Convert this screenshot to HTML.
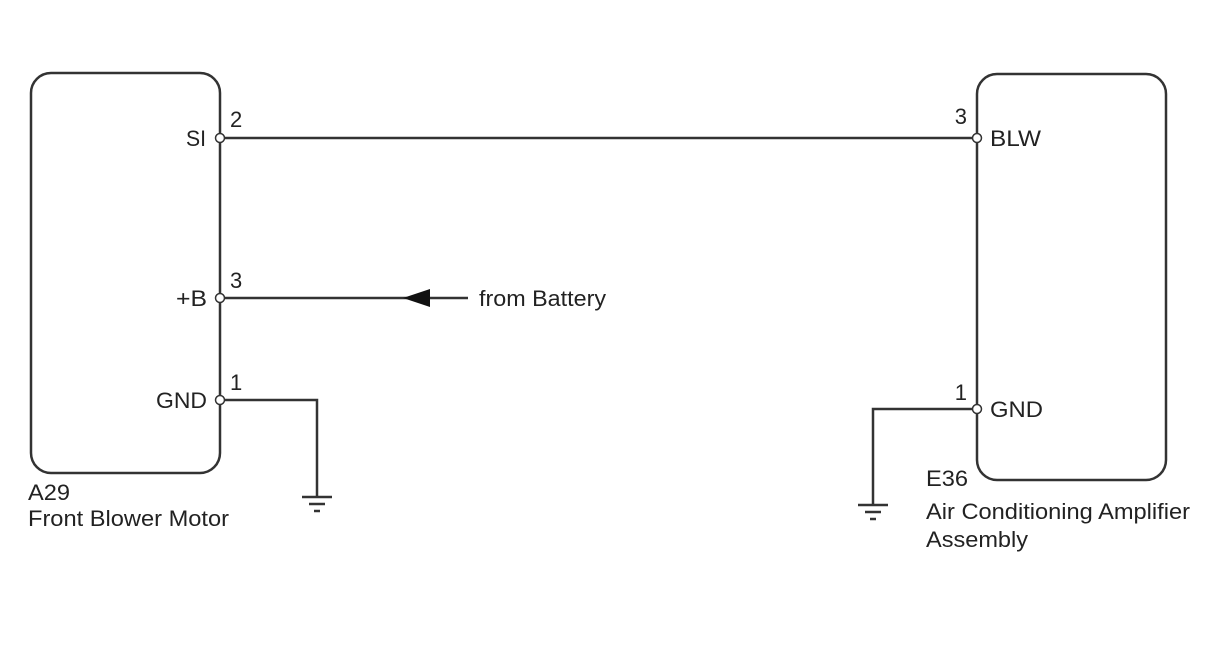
<!DOCTYPE html>
<html><head><style>body{margin:0;background:#fff}</style></head><body>
<svg width="1208" height="644" xmlns="http://www.w3.org/2000/svg" font-family="Liberation Sans, sans-serif" font-size="22" fill="#222">
<g stroke="#333" stroke-width="2.5" fill="none">
<rect x="31" y="73" width="189" height="400" rx="20"/>
<rect x="977" y="74" width="189" height="406" rx="20"/>
<line x1="220" y1="138" x2="977" y2="138"/>
<line x1="220" y1="298" x2="468" y2="298"/>
<polyline points="220,400 317,400 317,497"/>
<line x1="302" y1="497" x2="332" y2="497"/>
<line x1="309" y1="504" x2="325" y2="504"/>
<line x1="314" y1="511" x2="320" y2="511"/>
<polyline points="977,409 873,409 873,505"/>
<line x1="858" y1="505" x2="888" y2="505"/>
<line x1="865" y1="512" x2="881" y2="512"/>
<line x1="870" y1="519" x2="876" y2="519"/>
</g>
<polygon points="403,298 430,289 430,307" fill="#111"/>
<g fill="#fff" stroke="#333" stroke-width="1.5">
<circle cx="220" cy="138" r="4.5"/><circle cx="220" cy="298" r="4.5"/><circle cx="220" cy="400" r="4.5"/>
<circle cx="977" cy="138" r="4.5"/><circle cx="977" cy="409" r="4.5"/>
</g>
<g lengthAdjust="spacingAndGlyphs">
<text x="186" y="146" textLength="20" lengthAdjust="spacingAndGlyphs">SI</text>
<text x="230" y="127">2</text>
<text x="176" y="306" textLength="31" lengthAdjust="spacingAndGlyphs">+B</text>
<text x="230" y="288">3</text>
<text x="156" y="408" textLength="51" lengthAdjust="spacingAndGlyphs">GND</text>
<text x="230" y="390">1</text>
<text x="990" y="146" textLength="51" lengthAdjust="spacingAndGlyphs">BLW</text>
<text x="967" y="124" text-anchor="end">3</text>
<text x="990" y="417" textLength="53" lengthAdjust="spacingAndGlyphs">GND</text>
<text x="967" y="400" text-anchor="end">1</text>
<text x="479" y="306" textLength="127" lengthAdjust="spacingAndGlyphs">from Battery</text>
<text x="28" y="500" textLength="42" lengthAdjust="spacingAndGlyphs">A29</text>
<text x="28" y="526" textLength="201" lengthAdjust="spacingAndGlyphs">Front Blower Motor</text>
<text x="926" y="486" textLength="42" lengthAdjust="spacingAndGlyphs">E36</text>
<text x="926" y="519" textLength="264" lengthAdjust="spacingAndGlyphs">Air Conditioning Amplifier</text>
<text x="926" y="547" textLength="102" lengthAdjust="spacingAndGlyphs">Assembly</text>
</g>
</svg>
</body></html>
